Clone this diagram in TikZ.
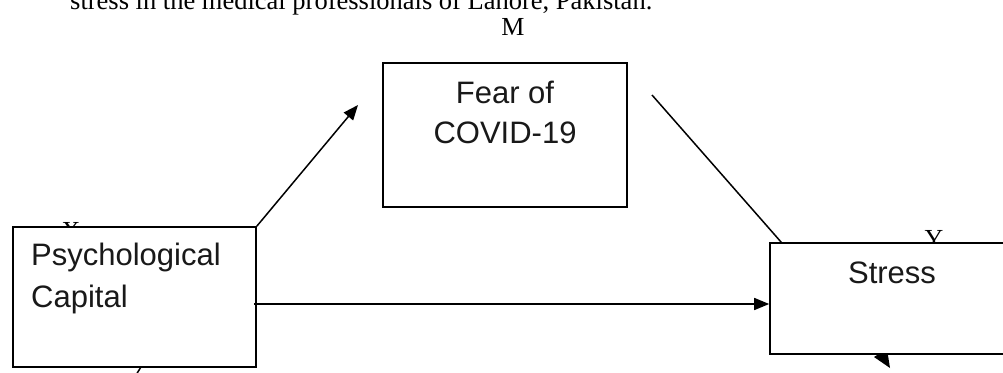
\documentclass[tikz,border=0pt]{standalone}
\usepackage{fontspec}
\setmainfont{Liberation Serif}
\newfontfamily\boxfont{Liberation Sans}
\usetikzlibrary{arrows.meta,calc}
\tikzset{
  boxnode/.style={draw=black, line width=1.6pt, fill=white, inner sep=0pt},
  boxtext/.style={font=\boxfont\fontsize{31}{37}\selectfont, inner sep=0pt, text=black!90},
  serif/.style={font=\fontsize{26.5}{32}\selectfont, inner sep=0pt},
  serifl/.style={font=\fontsize{26}{30}\selectfont, inner sep=0pt},
  conn/.style={line width=1.5pt, draw=black},
  arr/.style={conn, -{Triangle[length=15pt,width=12pt]}}
}
\begin{document}
\begin{tikzpicture}[x=1pt,y=-1pt]
\useasboundingbox (0,0) rectangle (1003,372);
\clip (0,0) rectangle (1003,372);
\fill[white] (0,0) rectangle (1003,372);
% caption fragment and labels
\node[serif, anchor=base west] (cap) at (70,9.5) {stress in the medical professionals of Lahore, Pakistan.};
\node[serifl, anchor=base] (mlab) at (513,35) {M};
\node[serifl, anchor=base] (xlab) at (71,239.5) {X};
\node[serifl, anchor=base] (ylab) at (934,247.5) {Y};
% fragments partly hidden behind the boxes
\coordinate (b1) at (144,362);
\coordinate (b2) at (136,375);
\draw[conn] (b1) -- (b2);
\coordinate (t1) at (874,357);
\coordinate (t2) at (887,349);
\coordinate (t3) at (890,368);
\fill[black] (t1) -- (t2) -- (t3) -- cycle;
% boxes
\node[boxnode, minimum width=243pt, minimum height=140pt] (pc) at (134.5,297) {};
\node[boxnode, minimum width=244pt, minimum height=144pt] (fear) at (505,135) {};
\node[boxnode, minimum width=244pt, minimum height=111pt] (stress) at (892,298.5) {};
% box texts
\node[boxtext, anchor=base west] (pc1) at (31,265) {Psychological};
\node[boxtext, anchor=base west] (pc2) at (31,307) {Capital};
\node[boxtext, anchor=base] (fear1) at (505,103) {Fear of};
\node[boxtext, anchor=base] (fear2) at (505,143.5) {COVID-19};
\node[boxtext, anchor=base] (st1) at (892,283.5) {Stress};
% connectors
\coordinate (a1) at (358,105);
\coordinate (f1) at (652,95);
\coordinate (h) at (0,304);
\draw[arr] (pc.north east) -- (a1);
\draw[conn] (f1) -- ($(stress.north west)+(12,0)$);
\draw[arr] ($(pc.east |- h)+(-3,0)$) -- (stress.west |- h);
\end{tikzpicture}
\end{document}
